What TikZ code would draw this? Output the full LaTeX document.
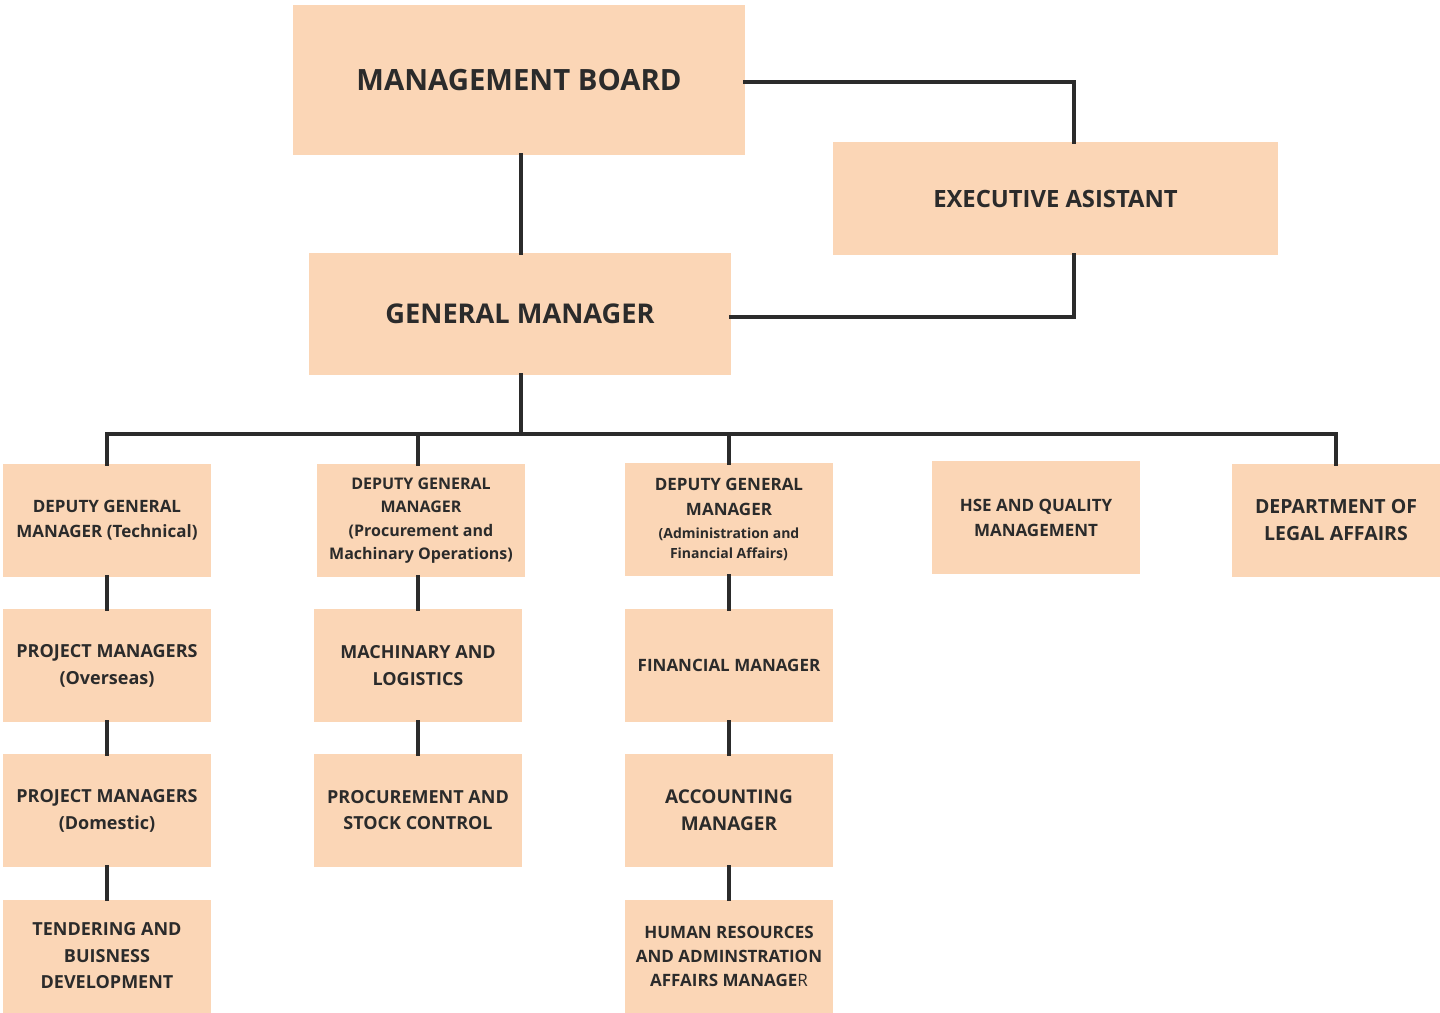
\documentclass[tikz,border=0pt]{standalone}
\usepackage{fontspec}
\setmainfont{Open Sans}
\usepackage{xcolor}
\usetikzlibrary{positioning}
\definecolor{peach}{HTML}{FBD6B6}
\definecolor{ink}{HTML}{2B2B2B}
\newcommand\subline{\fontsize{14}{20}\selectfont}
\tikzset{
	box/.style={fill=peach,text=ink,align=center,inner sep=0pt,
		font=\bfseries\fontsize{17}{25}\selectfont,
		minimum width=208pt,minimum height=113pt},
	link/.style={draw=ink,line width=4pt,line cap=rect}
}

\begin{document}
\begin{tikzpicture}[x=1pt,y=-1pt]
	\useasboundingbox (0,0) rectangle (1440,1012);

	% top level
	\node[box,minimum width=452pt,minimum height=150pt,
		font=\bfseries\fontsize{29.3}{36}\selectfont] (board) at (519,80) {MANAGEMENT BOARD};
	\node[box,minimum width=445pt,minimum height=113pt,
		font=\bfseries\fontsize{23.8}{28}\selectfont] (asst) at (1055.5,198.5) {EXECUTIVE ASISTANT};
	\node[box,minimum width=422pt,minimum height=122pt,
		font=\bfseries\fontsize{27.2}{32}\selectfont] (gm) at (520,314) {GENERAL MANAGER};

	% deputies and departments
	\node[box] (dgmT) at (107,520.5) {DEPUTY GENERAL\\MANAGER (Technical)};
	\node[box,font=\bfseries\fontsize{16}{23.5}\selectfont] (dgmP) at (421,520.5)
		{DEPUTY GENERAL\\MANAGER\\(Procurement and\\Machinary Operations)};
	\node[box,font=\bfseries\fontsize{17}{25}\selectfont] (dgmA) at (729,519.5)
		{DEPUTY GENERAL\\MANAGER\\[-2pt]\subline(Administration and\\[-5pt]\subline Financial Affairs)};
	\node[box] (hse) at (1036,517.5) {HSE AND QUALITY\\MANAGEMENT};
	\node[box,font=\bfseries\fontsize{19.5}{27}\selectfont] (legal) at (1336,520.5) {DEPARTMENT OF\\LEGAL AFFAIRS};

	% technical column
	\node[box,font=\bfseries\fontsize{18}{27}\selectfont] (pmO) at (107,665.5) {PROJECT MANAGERS\\(Overseas)};
	\node[box,font=\bfseries\fontsize{18}{27}\selectfont] (pmD) at (107,810.5) {PROJECT MANAGERS\\(Domestic)};
	\node[box,font=\bfseries\fontsize{18}{26.5}\selectfont] (tender) at (107,956) {TENDERING AND\\BUISNESS\\DEVELOPMENT};

	% procurement column
	\node[box,font=\bfseries\fontsize{18}{27}\selectfont] (mach) at (418,665.5) {MACHINARY AND\\LOGISTICS};
	\node[box,font=\bfseries\fontsize{18}{26}\selectfont] (stock) at (418,810.5) {PROCUREMENT AND\\STOCK CONTROL};

	% administration column
	\node[box] (fin) at (729,665.5) {FINANCIAL MANAGER};
	\node[box,font=\bfseries\fontsize{19}{27}\selectfont] (acc) at (729,810.5) {ACCOUNTING\\MANAGER};
	\node[box,font=\bfseries\fontsize{17}{24}\selectfont] (hr) at (729,956)
		{HUMAN RESOURCES\\AND ADMINSTRATION\\AFFAIRS MANAGE\mdseries R};

	% connectors
	\coordinate (bus) at (521,434);
	\coordinate (side) at (1074,0);
	\draw[link] ([yshift=-2pt]board.east) -| (asst.north -| side);
	\draw[link] (asst.south -| side) |- ([yshift=-3pt]gm.east);
	\draw[link] (board.south -| bus) -- (gm.north -| bus);
	\draw[link] (gm.south -| bus) -- (bus);
	\draw[link] (bus) -| (dgmT.north);
	\draw[link] (bus) -| (legal.north);
	\draw[link] (bus -| mach.north) -- (dgmP.north -| mach.north);
	\draw[link] (bus -| dgmA.north) -- (dgmA.north);

	\draw[link] (dgmT) -- (pmO);
	\draw[link] (pmO) -- (pmD);
	\draw[link] (pmD) -- (tender);
	\draw[link] (dgmP.south -| mach.north) -- (mach);
	\draw[link] (mach) -- (stock);
	\draw[link] (dgmA) -- (fin);
	\draw[link] (fin) -- (acc);
	\draw[link] (acc) -- (hr);
\end{tikzpicture}
\end{document}
